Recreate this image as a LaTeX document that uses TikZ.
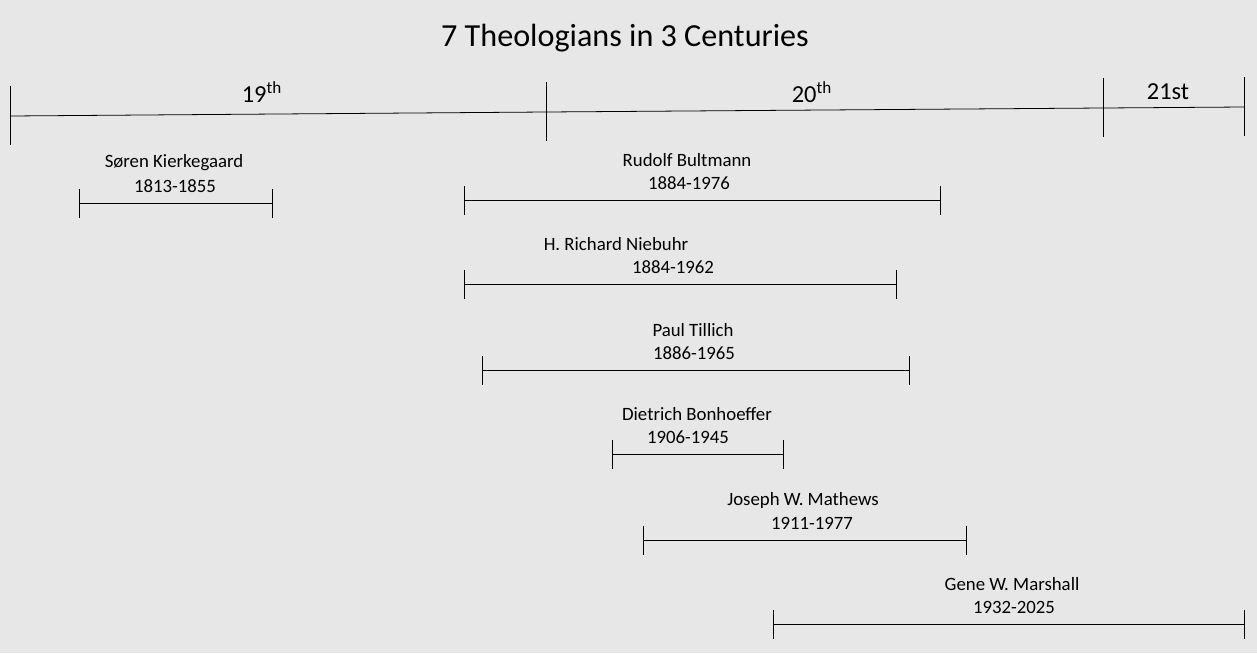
\documentclass[tikz,border=0pt]{standalone}
\usepackage{fontspec}
\setmainfont{Carlito}
\usetikzlibrary{positioning}
\definecolor{slidegray}{HTML}{E7E7E7}
\tikzset{
  rule/.style={line width=0.45pt, black},
  label/.style={font=\fontsize{10.7}{12}\selectfont, inner sep=0pt},
  century/.style={font=\fontsize{13.9}{16}\selectfont, inner sep=0pt}
}
% #1 name, #2 theologian, #3 years, #4 from x, #5 to x, #6 bar y, #7 name x, #8 years x
\newcommand{\lifespan}[8]{%
  \coordinate (#1-from) at (#4,#6);
  \coordinate (#1-to) at (#5,#6);
  \draw[rule] (#1-from) -- (#1-to);
  \draw[rule] (#1-from) ++(0,-14) -- ++(0,29);
  \draw[rule] (#1-to) ++(0,-14) -- ++(0,29);
  \node[label] (#1-name) at (#7,#6-40) {#2};
  \node[label] (#1-years) at (#8,#6-17) {#3};%
}

\begin{document}
\begin{tikzpicture}[x=0.02cm, y=-0.02cm]
    \fill[slidegray] (0,0) rectangle (1257,653);
    \useasboundingbox (0,0) rectangle (1257,653);
    \node[font=\fontsize{18.3}{21}\selectfont, inner sep=0pt] (title) at (625,38) {7 Theologians in 3 Centuries};
    % century axis
    \coordinate (c19) at (10,116);
    \coordinate (c20) at (546,112);
    \coordinate (c21) at (1103,108);
    \coordinate (cend) at (1244,107);
    \draw[rule] (c19) -- (c20) -- (c21) -- (cend);
    \foreach \c in {c19,c20,c21,cend}
        \draw[rule] (\c) ++(0,-30) -- ++(0,59);
    \node[century] (n19) at (262,92) {19\textsuperscript{th}};
    \node[century] (n20) at (812,92) {20\textsuperscript{th}};
    \node[century] (n21) at (1168,92) {21st};
    % lifespans
    \lifespan{kierkegaard}{Søren Kierkegaard}{1813-1855}{79}{272}{203}{174}{175}
    \lifespan{bultmann}{Rudolf Bultmann}{1884-1976}{464}{940}{200}{687}{689}
    \lifespan{niebuhr}{H. Richard Niebuhr}{1884-1962}{464}{896}{284}{616}{673}
    \lifespan{tillich}{Paul Tillich}{1886-1965}{482}{909}{370}{693}{694}
    \lifespan{bonhoeffer}{Dietrich Bonhoeffer}{1906-1945}{612}{783}{454}{697}{688}
    \lifespan{mathews}{Joseph W. Mathews}{1911-1977}{643}{966}{540}{803}{812}
    \lifespan{marshall}{Gene W. Marshall}{1932-2025}{773}{1244}{624}{1012}{1014}
\end{tikzpicture}
\end{document}
